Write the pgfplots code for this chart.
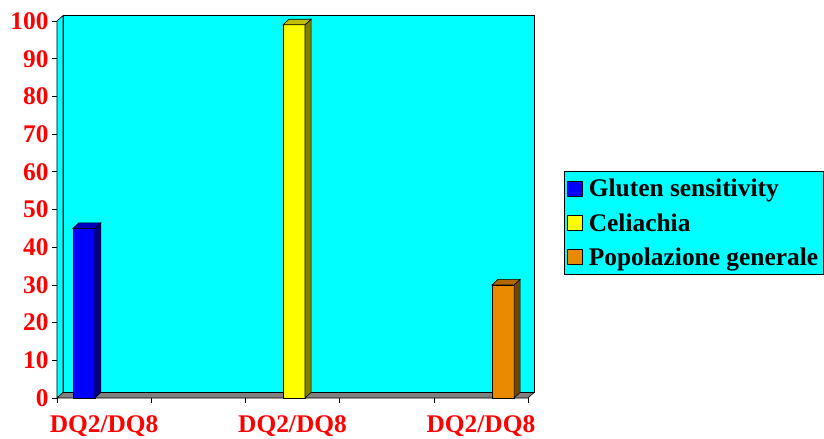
\documentclass[border=0pt]{standalone}
\usepackage{fontspec}
\setmainfont{Liberation Serif}
\usepackage{pgfplots}
\pgfplotsset{compat=1.18}

\definecolor{wall}{RGB}{0,255,255}
\definecolor{floorgrey}{RGB}{128,128,128}
\definecolor{gsFront}{RGB}{0,0,255}
\definecolor{gsTop}{RGB}{0,0,192}
\definecolor{gsSide}{RGB}{0,0,128}
\definecolor{ceFront}{RGB}{255,255,0}
\definecolor{ceTop}{RGB}{192,192,0}
\definecolor{ceSide}{RGB}{128,128,0}
\definecolor{pgFront}{RGB}{232,138,0}
\definecolor{pgTop}{RGB}{176,104,0}
\definecolor{pgSide}{RGB}{116,70,0}
\definecolor{lblred}{RGB}{255,0,0}

\newcommand{\bigfont}{\fontsize{25.5}{29}\selectfont\bfseries}

\begin{document}
\begin{tikzpicture}
\path[use as bounding box] (-57bp,-41bp) rectangle (767bp,398bp);
\begin{axis}[
  at={(0,0)}, anchor=south west,
  scale only axis,
  width=471bp, height=377bp,
  xmin=0.5, xmax=5.5,
  ymin=0, ymax=100,
  clip=false,
  axis line style={draw=none},
  tick align=outside,
  major tick length=5bp,
  xtick pos=bottom, ytick pos=left,
  tick style={black, line width=0.6pt},
  ytick={0,10,...,100},
  xtick={0.5,1.5,...,5.5},
  xticklabels={},
  extra x ticks={1,3,5},
  extra x tick labels={DQ2/DQ8,DQ2/DQ8,DQ2/DQ8},
  extra x tick style={major tick length=0pt,
    xticklabel style={yshift=-14bp}},
  /pgf/number format/assume math mode=true,
  ticklabel style={font=\bigfont, text=lblred},
  legend style={at={(1.0764,0.6021)}, anchor=north west,
    fill=wall, draw=black, line width=0.6pt,
    font=\bigfont, row sep=11bp,
    inner xsep=3bp, inner ysep=6bp},
  legend cell align=left,
]
% back wall, side wall and floor of the box
\addplot[fill=wall, draw=black, line width=0.6pt, forget plot]
  coordinates {(0.564,1.46) (5.564,1.46) (5.564,101.46) (0.564,101.46)} --cycle;
\addplot[fill=wall, draw=black, line width=0.6pt, forget plot]
  coordinates {(0.5,0) (0.564,1.46) (0.564,101.46) (0.5,100)} --cycle;
\addplot[fill=floorgrey, draw=black, line width=0.6pt, forget plot]
  coordinates {(0.5,0) (5.5,0) (5.564,1.46) (0.564,1.46)} --cycle;

% Gluten sensitivity: 45
\addplot[ybar, bar width=0.234, bar shift=0pt, fill=gsFront, draw=black, line width=0.6pt,
  legend image code/.code={\draw[fill=gsFront, draw=black, line width=0.6pt] (0bp,-7bp) rectangle (15bp,8bp); \path (19bp,0bp);}]
  coordinates {(0.785,45)};
\addlegendentry{Gluten sensitivity}
\addplot[fill=gsSide, draw=black, line width=0.6pt, forget plot]
  coordinates {(0.902,0) (0.966,1.46) (0.966,46.46) (0.902,45)} --cycle;
\addplot[fill=gsTop, draw=black, line width=0.6pt, forget plot]
  coordinates {(0.668,45) (0.902,45) (0.966,46.46) (0.732,46.46)} --cycle;

% Celiachia: 99
\addplot[ybar, bar width=0.234, bar shift=0pt, fill=ceFront, draw=black, line width=0.6pt,
  legend image code/.code={\draw[fill=ceFront, draw=black, line width=0.6pt] (0bp,-7bp) rectangle (15bp,8bp); \path (19bp,0bp);}]
  coordinates {(3.016,99)};
\addlegendentry{Celiachia}
\addplot[fill=ceSide, draw=black, line width=0.6pt, forget plot]
  coordinates {(3.133,0) (3.197,1.46) (3.197,100.46) (3.133,99)} --cycle;
\addplot[fill=ceTop, draw=black, line width=0.6pt, forget plot]
  coordinates {(2.899,99) (3.133,99) (3.197,100.46) (2.963,100.46)} --cycle;

% Popolazione generale: 30
\addplot[ybar, bar width=0.234, bar shift=0pt, fill=pgFront, draw=black, line width=0.6pt,
  legend image code/.code={\draw[fill=pgFront, draw=black, line width=0.6pt] (0bp,-7bp) rectangle (15bp,8bp); \path (19bp,0bp);}]
  coordinates {(5.235,30)};
\addlegendentry{Popolazione generale}
\addplot[fill=pgSide, draw=black, line width=0.6pt, forget plot]
  coordinates {(5.352,0) (5.416,1.46) (5.416,31.46) (5.352,30)} --cycle;
\addplot[fill=pgTop, draw=black, line width=0.6pt, forget plot]
  coordinates {(5.118,30) (5.352,30) (5.416,31.46) (5.182,31.46)} --cycle;
\end{axis}
\end{tikzpicture}
\end{document}
